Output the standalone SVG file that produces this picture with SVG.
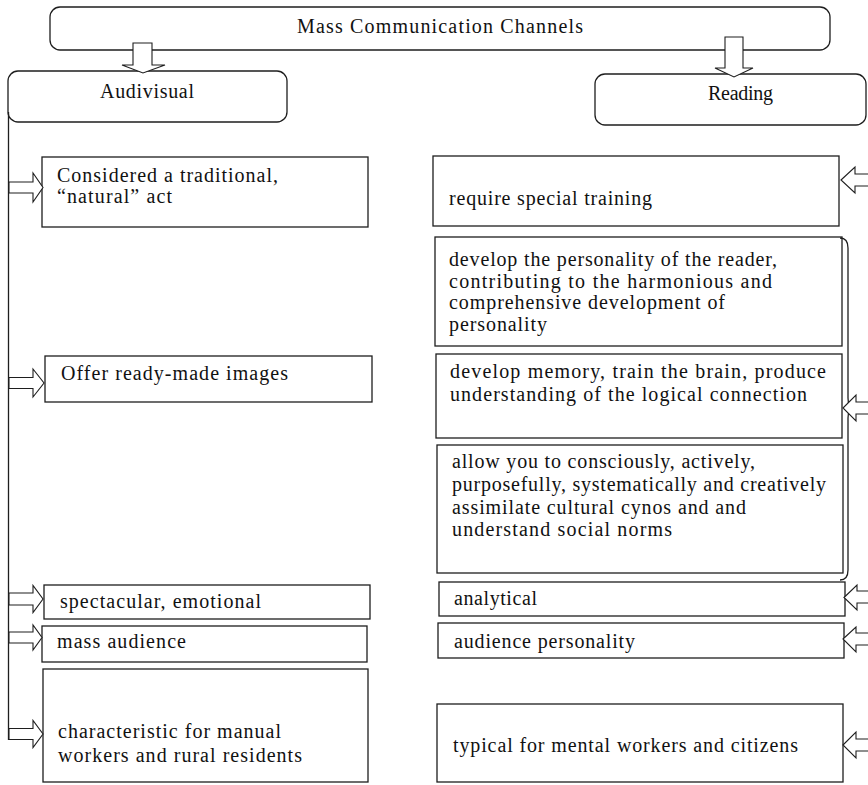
<svg xmlns="http://www.w3.org/2000/svg" width="868" height="785" viewBox="0 0 868 785">
<style>
  .box { fill: #ffffff; stroke: #1e1e1e; stroke-width: 1.3; }
  .arr { fill: #ffffff; stroke: #1e1e1e; stroke-width: 1.1; stroke-linejoin: miter; }
  .ln { fill: none; stroke: #1e1e1e; stroke-width: 1.3; }
  text { font-family: "Liberation Serif", "Times New Roman", serif; font-size: 20px; fill: #111111; }
</style>
<rect width="868" height="785" fill="#ffffff"/>

<g id="node-mass">
  <rect class="box" x="50" y="7" width="780" height="43" rx="10"/>
  <text x="297" y="33" textLength="286" lengthAdjust="spacing">Mass Communication Channels</text>
</g>
<g id="node-audivisual">
  <rect class="box" x="8" y="71" width="279" height="51" rx="10"/>
  <text x="100" y="98" textLength="94" lengthAdjust="spacing">Audivisual</text>
</g>
<g id="node-reading">
  <rect class="box" x="595" y="74" width="271" height="51" rx="10"/>
  <text x="708" y="100" textLength="65" lengthAdjust="spacing">Reading</text>
</g>

<g id="node-considered">
  <rect class="box" x="42" y="157" width="326" height="70"/>
  <text x="57" y="182" textLength="221" lengthAdjust="spacing">Considered a traditional,</text>
  <text x="57" y="203" textLength="115" lengthAdjust="spacing">“natural” act</text>
</g>
<g id="node-offer">
  <rect class="box" x="45" y="356" width="327" height="46"/>
  <text x="61" y="380" textLength="227" lengthAdjust="spacing">Offer ready-made images</text>
</g>
<g id="node-spectacular">
  <rect class="box" x="44" y="585" width="326" height="34"/>
  <text x="60" y="608" textLength="201" lengthAdjust="spacing">spectacular, emotional</text>
</g>
<g id="node-mass-audience">
  <rect class="box" x="42" y="626" width="325" height="36"/>
  <text x="57" y="648" textLength="129" lengthAdjust="spacing">mass audience</text>
</g>
<g id="node-characteristic">
  <rect class="box" x="43" y="669" width="325" height="113"/>
  <text x="58" y="738" textLength="223" lengthAdjust="spacing">characteristic for manual</text>
  <text x="58" y="762" textLength="244" lengthAdjust="spacing">workers and rural residents</text>
</g>

<g id="node-require">
  <rect class="box" x="433" y="156" width="406" height="70"/>
  <text x="449" y="205" textLength="203" lengthAdjust="spacing">require special training</text>
</g>
<g id="node-personality">
  <rect class="box" x="435" y="237" width="407" height="109"/>
  <text x="449" y="266" textLength="328" lengthAdjust="spacing">develop the personality of the reader,</text>
  <text x="449" y="288" textLength="323" lengthAdjust="spacing">contributing to the harmonious and</text>
  <text x="449" y="309" textLength="276" lengthAdjust="spacing">comprehensive development of</text>
  <text x="449" y="331" textLength="98" lengthAdjust="spacing">personality</text>
</g>
<g id="node-memory">
  <rect class="box" x="436" y="354" width="406" height="84"/>
  <text x="450" y="378" textLength="376" lengthAdjust="spacing">develop memory, train the brain, produce</text>
  <text x="450" y="401" textLength="357" lengthAdjust="spacing">understanding of the logical connection</text>
</g>
<g id="node-allow">
  <rect class="box" x="437" y="445" width="406" height="128"/>
  <text x="452" y="468" textLength="303" lengthAdjust="spacing">allow you to consciously, actively,</text>
  <text x="452" y="491" textLength="374" lengthAdjust="spacing">purposefully, systematically and creatively</text>
  <text x="452" y="514" textLength="294" lengthAdjust="spacing">assimilate cultural cynos and and</text>
  <text x="452" y="536" textLength="220" lengthAdjust="spacing">understand social norms</text>
</g>
<g id="node-analytical">
  <rect class="box" x="439" y="582" width="406" height="34"/>
  <text x="454" y="605" textLength="83" lengthAdjust="spacing">analytical</text>
</g>
<g id="node-audience-personality">
  <rect class="box" x="438" y="623" width="406" height="35"/>
  <text x="454" y="648" textLength="181" lengthAdjust="spacing">audience personality</text>
</g>
<g id="node-typical">
  <rect class="box" x="437" y="704" width="406" height="78"/>
  <text x="453" y="752" textLength="345" lengthAdjust="spacing">typical for mental workers and citizens</text>
</g>

<g id="connectors">
  <!-- down arrows -->
  <polygon class="arr" points="133,43 152,43 152,65 165,65 143,73 122,65 133,65"/>
  <polygon class="arr" points="725,37 743,37 743,68 753,68 734,77 715,68 725,68"/>
  <!-- left spine -->
  <line class="ln" x1="8.5" y1="112" x2="8.5" y2="740"/>
  <!-- left arrows -->
  <polygon class="arr" points="9,182 33,182 33,173 43,187.5 33,202 33,193 9,193"/>
  <polygon class="arr" points="9,377.5 33,377.5 33,369 44,383 33,397 33,388.5 9,388.5"/>
  <polygon class="arr" points="9,593 33,593 33,585.5 43,599 33,612.5 33,605 9,605"/>
  <polygon class="arr" points="9,632 33,632 33,625 42,637.5 33,650 33,643 9,643"/>
  <polygon class="arr" points="9,728.5 33,728.5 33,720.5 43,734 33,747.5 33,739.5 9,739.5"/>
  <!-- brace -->
  <path class="ln" d="M840,238 Q848,238 848,248 L848,398 Q848,408 854,408 Q848,408 848,418 L848,570 Q848,580 840,580" stroke-width="1.1"/>
  <!-- right arrows -->
  <polygon class="arr" points="841,180 855,167 855,174 870,174 870,186 855,186 855,193"/>
  <polygon class="arr" points="843,408 856,395 856,402 870,402 870,414 856,414 856,421"/>
  <polygon class="arr" points="844,597.5 857,585 857,591 870,591 870,603 857,603 857,610"/>
  <polygon class="arr" points="843,639 856,627 856,633 870,633 870,645 856,645 856,652"/>
  <polygon class="arr" points="843,745 856,732 856,739 870,739 870,751 856,751 856,758"/>
</g>
</svg>
